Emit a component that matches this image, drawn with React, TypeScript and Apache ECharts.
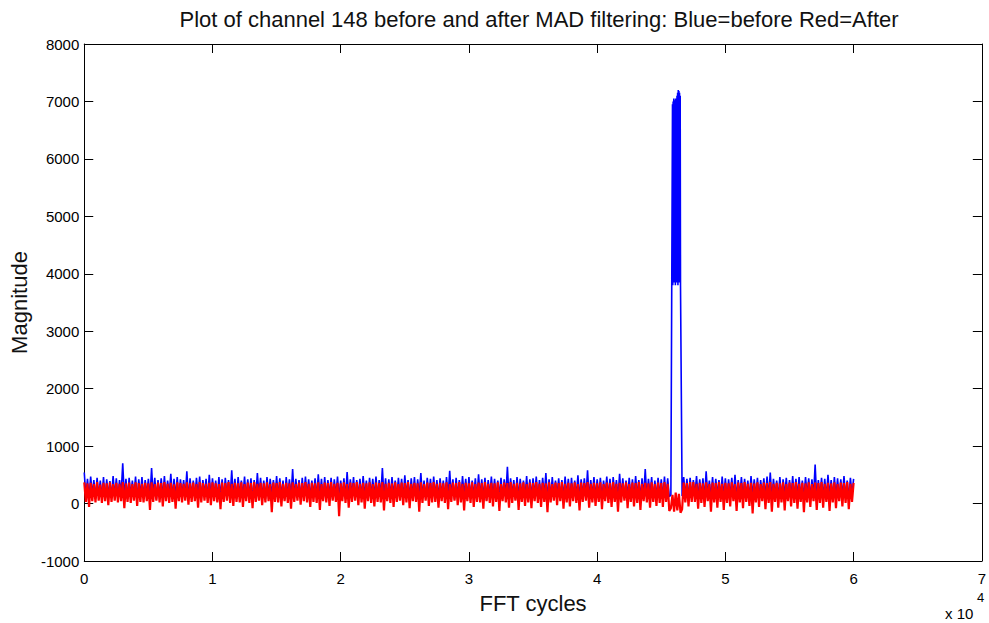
import React, { useEffect, useRef } from "react";
import * as echarts from "echarts";

// Sample spacing of the FFT cycle index (samples at 0, 125, 250, ... 60000)
const CYCLE_STEP = 125;
// The burst is sampled more finely (every 25 cycles from 45875 to 46500)
const BURST_START = 45875;
const BURST_STEP = 25;

const TITLE = "Plot of channel 148 before and after MAD filtering: Blue=before Red=After";
const X_NAME = "FFT cycles";
const Y_NAME = "Magnitude";
const X_TICK_LABELS = ["0", "1", "2", "3", "4", "5", "6", "7"];

// Magnitude before MAD filtering (blue)
const beforeValues: number[] = [
  540, 120, 430, 90, 470, 150, 410, 80, 450, 130, 400, 110, 460, 70, 420, 140, 390, 100, 480, 120,
  440, 90, 410, 160, 700, 110, 430, 80, 450, 130, 400, 120, 470, 60, 420, 140, 460, 100, 410, 150,
  430, 90, 620, 120, 450, 70, 410, 130, 440, 110, 480, 100, 400, 140, 520, 80, 430, 120, 460, 90,
  420, 150, 410, 110, 560, 70, 440, 130, 400, 100, 450, 120, 470, 90, 410, 160, 430, 80, 500, 110,
  440, 130, 400, 90, 460, 120, 420, 70, 450, 140, 410, 100, 580, 110, 430, 80, 460, 150, 400, 120,
  470, 90, 420, 130, 440, 60, 410, 110, 530, 140, 450, 100, 400, 80, 460, 120, 430, 150, 410, 90,
  480, 110, 440, 130, 400, 70, 460, 120, 420, 100, 600, 90, 430, 140, 410, 80, 450, 110, 470, 130,
  420, 100, 400, 150, 440, 90, 510, 120, 430, 60, 460, 110, 410, 140, 450, 80, 420, 130, 470, 100,
  400, 120, 440, 90, 550, 110, 420, 150, 460, 70, 410, 130, 430, 100, 480, 120, 400, 80, 450, 140,
  430, 110, 470, 90, 410, 130, 620, 100, 440, 60, 420, 120, 460, 150, 400, 90, 450, 110, 430, 80,
  490, 130, 410, 100, 440, 120, 460, 70, 420, 140, 530, 110, 400, 90, 450, 130, 430, 80, 470, 120,
  410, 100, 440, 150, 400, 90, 460, 110, 570, 130, 420, 70, 450, 120, 410, 100, 480, 140, 430, 90,
  460, 110, 400, 130, 440, 80, 510, 120, 420, 100, 450, 60, 410, 140, 470, 110, 430, 90, 400, 130,
  450, 100, 420, 120, 640, 90, 440, 150, 410, 70, 460, 110, 430, 130, 400, 100, 480, 80, 420, 120,
  440, 140, 470, 90, 410, 110, 450, 130, 530, 80, 420, 100, 460, 120, 400, 150, 440, 90, 410, 110,
  470, 130, 430, 70, 450, 100, 400, 120, 490, 90, 420, 140, 440, 110, 580, 80, 410, 130, 460, 100,
  420, 120, 450, 90, 400, 150, 470, 110, 430, 70, 460, 130, 410, 100, 520, 120, 440, 90, 400, 140,
  450, 110, 420, 80, 480, 130, 410, 100, 440, 120, 600, 90, 430, 150, 460, 70, 400, 110, 450, 130,
  420, 100, 470, 90, 440, 120, 150, 6900, 3900, 7050, 3850, 7200, 3800, 130, 460, 120, 430, 90, 450, 110,
  410, 140, 480, 100, 420, 120, 440, 80, 560, 130, 400, 110, 460, 90, 430, 150, 410, 100, 470, 120,
  440, 70, 420, 130, 450, 110, 500, 90, 410, 140, 460, 100, 430, 120, 400, 80, 480, 130, 420, 110,
  450, 90, 410, 150, 440, 120, 470, 100, 540, 70, 430, 130, 400, 110, 460, 90, 420, 140, 450, 100,
  410, 120, 480, 80, 430, 130, 460, 110, 400, 90, 460, 150, 440, 100, 420, 120, 680, 70, 410, 130,
  450, 110, 430, 90, 500, 140, 410, 100, 460, 120, 440, 80, 420, 130, 480, 110, 400, 90, 450, 150,
  430,
];

// Finely sampled burst in the "before" signal (45875 .. 46500, every 25 cycles)
const beforeBurst: number[] = [
  6950, 3800, 7000, 3900, 7050, 3850, 6980, 3950, 7020, 3800, 7050, 3900, 6900,
  3850, 7100, 3900, 7150, 3800, 7200, 3950, 7180, 3850, 7150, 3900, 7100, 3800,
];

// Magnitude after MAD filtering (red)
const afterValues: number[] = [
  370, 30, 350, -60, 360, 40, 340, 20, 375, 50, 330, 10, 360, 40, 350, -30, 370, 30, 340, 50,
  360, 20, 345, 40, 375, -80, 350, 30, 365, 10, 340, 50, 370, -40, 355, 30, 345, 20, 360, 40,
  350, -110, 370, 30, 340, 50, 365, 20, 355, -50, 375, 40, 345, 10, 360, 30, 335, -90, 370, 40,
  355, 20, 345, 50, 370, -20, 350, 30, 365, 40, 340, -70, 375, 20, 355, 50, 345, 10, 360, -30,
  370, 40, 350, 20, 340, -100, 365, 30, 355, 50, 375, 10, 345, -40, 360, 30, 350, 20, 370, -60,
  340, 40, 365, 10, 355, -80, 375, 30, 345, 50, 360, -30, 350, 20, 370, 40, 340, -150, 365, 30,
  355, 20, 375, -50, 345, 40, 360, 10, 350, -90, 370, 30, 340, 50, 365, -20, 355, 40, 375, 20,
  345, -60, 360, 30, 350, 10, 370, -110, 340, 40, 365, 20, 355, -40, 375, 50, 345, 30, 360, -220,
  350, 40, 370, 10, 340, -70, 365, 30, 355, 50, 375, -30, 345, 20, 360, -90, 350, 40, 370, 10,
  340, -50, 365, 30, 355, 20, 375, -120, 345, 40, 360, 10, 350, -60, 370, 30, 340, 50, 365, -30,
  355, 20, 375, -80, 345, 40, 360, 30, 350, -140, 370, 10, 340, 50, 365, -40, 355, 20, 375, 30,
  345, -70, 360, 40, 350, 10, 370, -100, 340, 30, 365, 50, 355, -30, 375, 20, 345, -120, 360, 40,
  350, 10, 370, -60, 340, 30, 365, 20, 355, -90, 375, 40, 345, 10, 360, -50, 350, 30, 370, -130,
  340, 40, 365, 20, 355, -70, 375, 10, 345, 50, 360, -110, 350, 30, 370, -40, 340, 20, 365, -80,
  355, 40, 375, 10, 345, -60, 360, 30, 350, -150, 370, 20, 340, 50, 365, -30, 355, 40, 375, -90,
  345, 20, 360, -50, 350, 40, 370, 10, 340, -120, 365, 30, 355, 50, 375, -70, 345, 20, 360, -40,
  350, 30, 370, -100, 340, 40, 365, 10, 355, -60, 375, 30, 345, -140, 360, 20, 350, 50, 370, -80,
  340, 30, 365, -50, 355, 10, 375, -110, 345, 40, 360, 20, 350, -70, 370, 30, 340, -40, 365, 10,
  355, -60, 375, 30, 345, -130, -80, 150, -140, 190, -120, 170, -160, -100, 365, 20, 355, -50, 375, 30,
  375, 30, 345, -90, 360, 10, 350, -60, 370, 40, 340, -140, 365, 20, 355, -70, 375, 30, 345, -110,
  360, 10, 350, -50, 370, 40, 340, -130, 365, 20, 355, -80, 375, 30, 345, -40, 360, -170, 350, 20,
  370, -60, 340, 40, 365, -100, 355, 10, 375, -140, 345, 30, 360, -70, 350, 20, 370, -120, 340, 40,
  365, -50, 355, 10, 375, -90, 345, 30, 360, -150, 350, 20, 370, -60, 340, 40, 365, -110, 355, 10,
  375, -70, 345, 30, 360, -130, 350, 20, 370, -80, 340, 40, 365, -50, 355, 10, 375, -100, 345, 30,
  360,
];

const toPairs = (vals: number[]) => vals.map((v, i) => [i * CYCLE_STEP, v]);

const beforeData = (() => {
  const burstEnd = BURST_START + (beforeBurst.length - 1) * BURST_STEP;
  const main = toPairs(beforeValues).filter((p) => p[0] < BURST_START || p[0] > burstEnd);
  const burst = beforeBurst.map((v, i) => [BURST_START + i * BURST_STEP, v]);
  return [...main, ...burst].sort((a, b) => a[0] - b[0]);
})();

export default function App() {
  const ref = useRef<HTMLDivElement>(null);

  useEffect(() => {
    if (!ref.current) return;
    const chart = echarts.init(ref.current, undefined, { renderer: "svg" });
    const font = "'Liberation Sans', Arial, Helvetica, sans-serif";
    const tickCommon = {
      axisLine: { show: true, onZero: false, lineStyle: { color: "#000", width: 1 } },
      axisTick: { show: true, inside: true, length: 9, lineStyle: { color: "#000", width: 1 } },
      splitLine: { show: false },
    };
    chart.setOption({
      animation: false,
      backgroundColor: "#fff",
      textStyle: { fontFamily: font },
      title: {
        text: TITLE,
        left: 534,
        top: 3,
        textAlign: "center",
        textStyle: { fontFamily: font, fontSize: 22, fontWeight: "normal", color: "#111" },
      },
      grid: { left: 83, right: 6, top: 44, bottom: 62, containLabel: false },
      xAxis: [
        {
          type: "value",
          position: "bottom",
          min: 0,
          max: 70000,
          interval: 10000,
          ...tickCommon,
          axisLabel: {
            show: true,
            color: "#000",
            fontSize: 15,
            fontFamily: font,
            margin: 10,
            showMinLabel: true,
            showMaxLabel: true,
            formatter: (v: number) => X_TICK_LABELS[Math.round(v / 10000)] ?? "",
          },
          name: X_NAME,
          nameLocation: "middle",
          nameGap: 31,
          nameTextStyle: { fontSize: 22, color: "#111", fontFamily: font },
        },
        {
          type: "value",
          position: "top",
          min: 0,
          max: 70000,
          interval: 10000,
          ...tickCommon,
          axisLabel: { show: false },
        },
      ],
      yAxis: [
        {
          type: "value",
          position: "left",
          min: -1000,
          max: 8000,
          interval: 1000,
          ...tickCommon,
          axisLabel: {
            show: true,
            color: "#000",
            fontSize: 15,
            fontFamily: font,
            margin: 5,
            showMinLabel: true,
            showMaxLabel: true,
            formatter: (v: number) => String(v),
          },
          name: Y_NAME,
          nameLocation: "middle",
          nameGap: 52,
          nameRotate: 90,
          nameTextStyle: { fontSize: 22, color: "#111", fontFamily: font },
        },
        {
          type: "value",
          position: "right",
          min: -1000,
          max: 8000,
          interval: 1000,
          ...tickCommon,
          axisLabel: { show: false },
        },
      ],
      graphic: [
        {
          type: "text",
          left: 945,
          top: 606,
          style: { text: "x 10", fontSize: 15, fill: "#000", fontFamily: font },
        },
        {
          type: "text",
          left: 977,
          top: 591,
          style: { text: "4", fontSize: 13, fill: "#000", fontFamily: font },
        },
      ],
      series: [
        {
          name: "Before",
          type: "line",
          xAxisIndex: 0,
          yAxisIndex: 0,
          data: beforeData,
          showSymbol: false,
          symbol: "none",
          lineStyle: { color: "#0000ff", width: 1.6 },
          itemStyle: { color: "#0000ff" },
          z: 2,
        },
        {
          name: "After",
          type: "line",
          xAxisIndex: 0,
          yAxisIndex: 0,
          data: toPairs(afterValues),
          showSymbol: false,
          symbol: "none",
          lineStyle: { color: "#ff0000", width: 2.2 },
          itemStyle: { color: "#ff0000" },
          z: 3,
        },
      ],
    });
    return () => chart.dispose();
  }, []);

  return <div ref={ref} style={{ width: 989, height: 623, position: "absolute", left: 0, top: 0 }} />;
}
